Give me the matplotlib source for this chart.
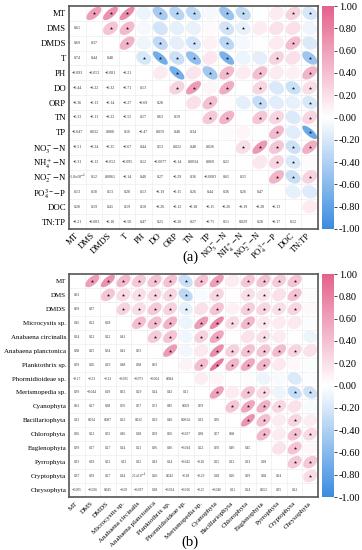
import numpy as np
import matplotlib
matplotlib.use("Agg")
from matplotlib import pyplot as plt
from matplotlib.colors import LinearSegmentedColormap, Normalize
from matplotlib.cm import ScalarMappable
from matplotlib.patches import Polygon

plt.rcParams["font.family"] = ["Liberation Serif", "DejaVu Serif"]
plt.rcParams["mathtext.fontset"] = "stix"

# ---- panel (a): odour compounds vs water quality ----
labels_a = ["MT", "DMS", "DMDS", "T", "PH", "DO", "ORP", "TN", "TP",
            r"NO$_3^-$$-$N", r"NH$_4^+$$-$N", r"NO$_2^-$$-$N",
            r"PO$_4^{3-}$$-$P", "DOC", "TN:TP"]

# lower triangle, row by row
rows_a = [
    [],
    [0.61],
    [0.69, 0.37],
    [0.74, 0.44, 0.48],
    [-0.093, -0.053, -0.081, -0.21],
    [-0.44, -0.22, -0.32, -0.71, 0.13],
    [-0.36, -0.13, -0.14, -0.27, -0.69, 0.28],
    [-0.33, -0.11, -0.22, -0.55, 0.17, 0.63, 0.19],
    [-0.047, 0.032, 0.088, 0.16, -0.47, 0.059, 0.40, 0.34],
    [-0.51, -0.24, -0.35, -0.67, 0.44, 0.53, 0.022, 0.48, 0.026],
    [-0.31, -0.12, -0.052, -0.095, 0.12, -0.0077, -0.14, 0.0034, 0.069, 0.21],
    [-1.0e-4, 0.12, 0.0061, -0.14, 0.40, 0.27, -0.29, 0.36, -0.0083, 0.65, 0.15],
    [0.13, 0.18, 0.13, 0.28, 0.13, -0.19, -0.15, 0.26, 0.44, 0.36, 0.26, 0.47],
    [0.28, 0.19, 0.41, 0.19, 0.10, -0.26, -0.12, -0.18, -0.15, -0.26, -0.19, -0.28, -0.13],
    [-0.21, -0.083, -0.18, -0.50, 0.47, 0.21, -0.20, 0.27, -0.75, 0.51, 0.029, 0.28, -0.17, 0.12],
]

# significant pairs (row -> columns in upper triangle)
sig_a = {
    0: [1, 2, 3, 5, 6, 7, 9, 10, 13, 14],
    1: [2, 3, 9, 10],
    2: [3, 5, 7, 9, 13],
    3: [4, 5, 6, 7, 9, 12, 14],
    4: [6, 8, 9, 11, 14],
    5: [6, 7, 9, 11, 13, 14],
    6: [8, 11, 14],
    7: [8, 9, 11, 12, 14],
    8: [12, 14],
    9: [10, 11, 12, 13, 14],
    10: [12, 13],
    11: [12, 13, 14],
}

# ---- panel (b): odour compounds vs algae ----
labels_b = ["MT", "DMS", "DMDS", "Microcystis sp.", "Anabaena circinalis",
            "Anabaena planctonica", "Planktothrix sp.", "Phormidioideae sp.",
            "Merismopedia sp.", "Cyanophyta", "Bacillariophyta", "Chlorophyta",
            "Euglenophyta", "Pyrrophyta", "Cryptophyta", "Chrysophyta"]

rows_b = [
    [],
    [0.61],
    [0.69, 0.37],
    [0.45, 0.23, 0.28],
    [0.34, 0.21, 0.22, 0.41],
    [0.38, 0.25, 0.34, 0.41, 0.33],
    [0.39, 0.26, 0.29, 0.48, 0.38, 0.63],
    [-0.27, -0.33, -0.13, -0.095, -0.073, -0.064, 0.084],
    [0.39, -0.044, 0.19, 0.62, 0.29, 0.14, 0.41, 0.11],
    [0.61, 0.27, 0.38, 0.76, 0.57, 0.72, 0.85, 0.069, 0.59],
    [0.13, 0.014, 0.087, 0.23, 0.012, 0.29, 0.46, 0.0034, 0.13, 0.36],
    [0.36, 0.21, 0.32, 0.46, 0.18, 0.39, 0.56, -0.027, 0.38, 0.57, 0.68],
    [0.39, 0.17, 0.27, 0.14, 0.21, 0.36, 0.46, -0.094, 0.22, 0.50, 0.40, 0.45],
    [0.33, 0.19, 0.21, 0.13, 0.12, 0.43, 0.14, -0.042, -0.100, 0.25, 0.12, 0.13, 0.18],
    [0.37, 0.39, 0.27, 0.14, 2.1e-4, 0.26, 0.042, -0.18, -0.29, 0.18, 0.26, 0.39, 0.38, 0.34],
    [-0.005, -0.026, 0.045, -0.030, -0.097, 0.18, -0.024, -0.016, -0.25, -0.046, 0.11, 0.24, 0.052, 0.35, 0.22],
]

sig_b = {
    0: [1, 2, 3, 4, 5, 6, 7, 8, 9, 11, 12, 13, 14],
    1: [2, 3, 4, 5, 6, 7, 9, 11, 12, 14],
    2: [3, 4, 5, 6, 7, 9, 11, 12, 13, 14],
    3: [4, 5, 6, 8, 9, 10, 11, 12],
    4: [5, 6, 8, 9, 12],
    5: [6, 9, 10, 11, 12, 13, 14],
    6: [8, 9, 10, 11, 12],
    8: [9, 11, 12, 14, 15],
    9: [10, 11, 12, 13],
    10: [11, 12, 14],
    11: [12, 14, 15],
    12: [14],
    13: [14, 15],
    14: [15],
}

cmap = LinearSegmentedColormap.from_list("corr", ["#3A8BE0", "#FFFFFF", "#E4628C"])
norm = Normalize(-1, 1)


def fmt(v):
    if v != 0 and abs(v) < 1e-3:
        exp = int(np.floor(np.log10(abs(v))))
        man = v / 10 ** exp
        return f"{man:.1f}" + r"$\times$10$^{%d}$" % exp
    if abs(v) >= 0.1:
        s = f"{v:.2f}"
    else:
        s = f"{v:.2g}"
    return s.replace("-", "\u2212")


def draw_corr(ax, cax, labels, rows, sig, fs_lab, fs_num):
    n = len(labels)
    mat = np.eye(n)
    for i, row in enumerate(rows):
        for j, v in enumerate(row):
            mat[i, j] = mat[j, i] = v

    ax.set_xlim(0, n)
    ax.set_ylim(n, 0)
    for k in range(1, n):
        ax.axhline(k, color="#E8E8E8", lw=0.4, zorder=0)
        ax.axvline(k, color="#E8E8E8", lw=0.4, zorder=0)

    t = np.linspace(0, 2 * np.pi, 80)
    sx, sy = [], []
    for i in range(n):
        for j in range(n):
            r = mat[i, j]
            if i > j:
                ax.text(j + 0.5, i + 0.5, fmt(r), ha="center", va="center",
                        fontsize=fs_num, color="#333333")
            elif i < j:
                d = np.arccos(r)
                ex = 0.45 * np.cos(t + d / 2)
                ey = 0.45 * np.cos(t - d / 2)
                ax.add_patch(Polygon(np.column_stack([j + 0.5 + ex, i + 0.5 - ey]),
                                     closed=True, fc=cmap(norm(r)), ec="none", zorder=1))
                if j in sig.get(i, []):
                    sx.append(j + 0.5)
                    sy.append(i + 0.5)
    ax.scatter(sx, sy, marker="*", s=6, color="#1a1a1a", lw=0, zorder=3)

    ax.set_xticks(np.arange(n) + 0.5)
    ax.set_yticks(np.arange(n) + 0.5)
    ax.set_yticklabels(labels, fontsize=fs_lab)
    ax.set_xticklabels(labels, fontsize=fs_lab, rotation=45, ha="right",
                       va="center", rotation_mode="anchor")
    ax.tick_params(length=0, pad=2)
    ax.tick_params(axis="x", pad=4)
    for sp in ax.spines.values():
        sp.set_color("#555555")
        sp.set_linewidth(1.2)

    cb = plt.colorbar(ScalarMappable(norm=norm, cmap=cmap), cax=cax,
                      ticks=np.linspace(-1, 1, 11), format="%.2f")
    cb.outline.set_visible(False)
    cb.ax.tick_params(labelsize=7.5, length=2, width=0.5, pad=1.5)


fig = plt.figure(figsize=(3.62, 5.5), dpi=100)
H = 550.0
W = 362.0
ax_a = fig.add_axes([69 / W, 1 - 229 / H, 249 / W, 223 / H])
cax_a = fig.add_axes([322 / W, 1 - 229 / H, 12 / W, 223 / H])
ax_b = fig.add_axes([69 / W, 1 - 497 / H, 249 / W, 223 / H])
cax_b = fig.add_axes([322 / W, 1 - 497 / H, 12 / W, 223 / H])

draw_corr(ax_a, cax_a, labels_a, rows_a, sig_a, 6.3, 2.9)
draw_corr(ax_b, cax_b, labels_b, rows_b, sig_b, 5.0, 2.6)

fig.text(190 / W, 1 - 257 / H, "(a)", fontsize=10.5, ha="center", va="center")
fig.text(190 / W, 1 - 542 / H, "(b)", fontsize=10.5, ha="center", va="center")

fig.savefig("out.png", dpi=100)
